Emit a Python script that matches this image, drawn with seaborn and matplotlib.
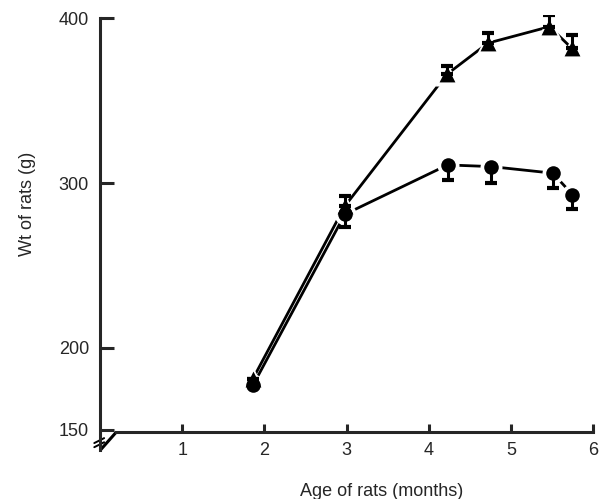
import matplotlib
matplotlib.use('Agg')
import matplotlib.pyplot as plt
import seaborn as sns
import pandas as pd

# Datos
age_circle = [1.86, 2.98, 4.23, 4.76, 5.51, 5.75]
wt_circle = [177, 281, 311, 310, 306, 293]
err_circle = [0, 8, 9, 10, 9, 9]

age_tri = [1.86, 2.98, 4.22, 4.72, 5.47, 5.74]
wt_tri = [181, 286, 366, 385, 395, 382]
err_tri = [0, 6, 5, 6, 7, 8]

x_ticks = [1, 2, 3, 4, 5, 6]
y_ticks = [150, 200, 300, 400]

sns.set_style('ticks')
plt.rcParams['font.family'] = ['Liberation Sans', 'DejaVu Sans']

df_c = pd.DataFrame({'age': age_circle, 'wt': wt_circle})
df_t = pd.DataFrame({'age': age_tri, 'wt': wt_tri})

fig = plt.figure(figsize=(5.99, 4.99), dpi=100)
ax = fig.add_axes([0.167, 0.0956, 0.823, 0.874])

# Lineas
sns.lineplot(data=df_c, x='age', y='wt', color='black', lw=2.0, ax=ax, zorder=1, sort=False)
sns.lineplot(data=df_t, x='age', y='wt', color='black', lw=2.0, ax=ax, zorder=1, sort=False)

# Halo blanco alrededor de los marcadores
sns.scatterplot(data=df_c, x='age', y='wt', marker='o', s=250, color='white', linewidth=0, ax=ax, zorder=2)
sns.scatterplot(data=df_t, x='age', y='wt', marker='^', s=300, color='white', linewidth=0, ax=ax, zorder=2)

# Barras de error (circulos hacia abajo, triangulos hacia arriba)
ax.errorbar(age_circle, wt_circle, yerr=[err_circle, [0] * len(err_circle)], fmt='none',
            ecolor='black', elinewidth=2.2, capsize=4.5, capthick=3, zorder=3)
ax.errorbar(age_tri, wt_tri, yerr=[[0] * len(err_tri), err_tri], fmt='none',
            ecolor='black', elinewidth=2.2, capsize=4.5, capthick=3, zorder=3)

# Marcadores
sns.scatterplot(data=df_c, x='age', y='wt', marker='o', s=110, color='black', linewidth=0, ax=ax, zorder=4)
sns.scatterplot(data=df_t, x='age', y='wt', marker='^', s=130, color='black', linewidth=0, ax=ax, zorder=4)

ax.set_xlim(0, 6)
ax.set_ylim(137, 402)

# Ejes
ax.spines['top'].set_visible(False)
ax.spines['right'].set_visible(False)
ax.spines['left'].set_linewidth(2.2)
ax.spines['bottom'].set_linewidth(2.2)
ax.spines['left'].set_bounds(137.5, 400)
ax.spines['bottom'].set_position(('data', 148.8))
ax.spines['bottom'].set_bounds(0.2, 6)

# Corte del eje
ax.plot([0, 0.2], [137.5, 148.8], color='black', lw=2.2, clip_on=False, solid_capstyle='butt')
for dy in (0, 2.5):
    ax.plot([-0.07, 0.05], [139.5 + dy, 142.5 + dy], color='black', lw=1.4, clip_on=False)

ax.set_xticks(x_ticks)
ax.set_yticks(y_ticks)
ax.tick_params(axis='x', direction='in', length=6, width=2.2, labelsize=13, pad=7)
ax.tick_params(axis='y', direction='in', length=10, width=2.2, labelsize=13, pad=8)

ax.set_xlabel('Age of rats (months)', fontsize=13)
ax.set_ylabel('Wt of rats (g)', fontsize=13)
ax.xaxis.set_label_coords(0.572, -0.073)
ax.yaxis.set_label_coords(-0.13, 0.567)

plt.savefig('out.png', dpi=100)
